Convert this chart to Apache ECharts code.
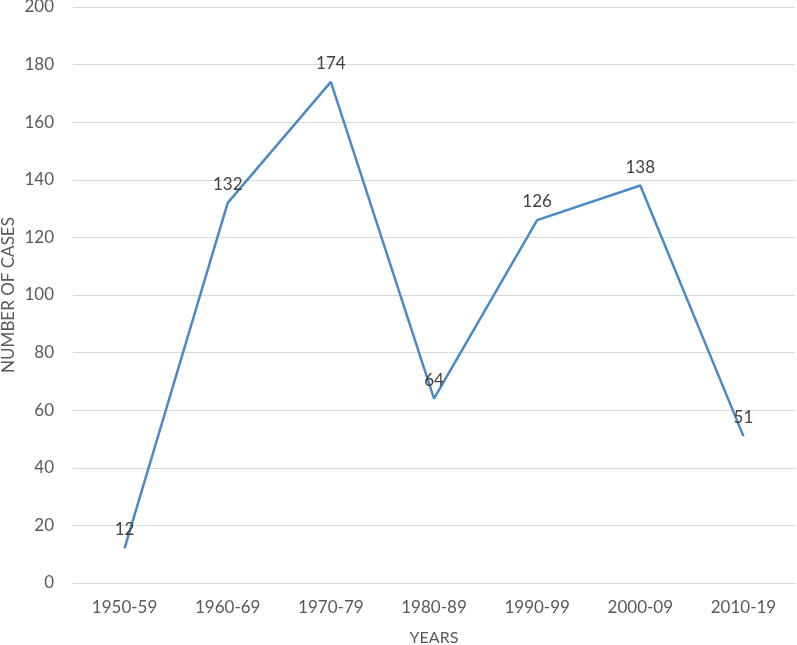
<!DOCTYPE html>
<html>
<head>
<meta charset="utf-8">
<script src="https://cdn.jsdelivr.net/npm/echarts@6/dist/echarts.min.js"></script>
<style>
html,body{margin:0;padding:0;background:#fff;}
#chart{width:797px;height:645px;}
</style>
</head>
<body>
<div id="chart"></div>
<script>
const categories = ['1950-59','1960-69','1970-79','1980-89','1990-99','2000-09','2010-19'];
const cases = [12, 132, 174, 64, 126, 138, 51];
const yTicks = {min: 0, max: 200, interval: 20};

const chart = echarts.init(document.getElementById('chart'));
const font = 'Lato, "Open Sans", sans-serif';
chart.setOption({
  animation: false,
  grid: {left: 73, right: 2, top: 7, bottom: 62, containLabel: false, outerBoundsMode: 'none'},
  xAxis: {
    type: 'category',
    data: categories,
    boundaryGap: true,
    name: 'YEARS',
    nameLocation: 'middle',
    nameGap: 47,
    nameMoveOverlap: false,
    nameTextStyle: {color: '#595959', fontSize: 16, fontFamily: font},
    axisLine: {show: true, lineStyle: {color: '#d9d9d9', width: 1}},
    axisTick: {show: false},
    axisLabel: {color: '#595959', fontSize: 17, fontFamily: font, margin: 16}
  },
  yAxis: {
    type: 'value',
    min: yTicks.min, max: yTicks.max, interval: yTicks.interval,
    name: 'NUMBER OF CASES',
    nameLocation: 'middle',
    nameGap: 56,
    nameRotate: 90,
    nameMoveOverlap: false,
    nameTextStyle: {color: '#595959', fontSize: 17, fontFamily: font},
    axisLine: {show: false},
    axisTick: {show: false},
    axisLabel: {color: '#595959', fontSize: 17, fontFamily: font, margin: 19},
    splitLine: {lineStyle: {color: '#d9d9d9', width: 1}}
  },
  series: [{
    type: 'line',
    data: cases,
    symbol: 'circle',
    symbolSize: 0,
    showSymbol: true,
    itemStyle: {color: '#4A8AC6'},
    lineStyle: {color: '#4A8AC6', width: 2.5},
    label: {
      show: true,
      position: 'top',
      distance: 10,
      color: '#404040',
      fontSize: 17,
      fontFamily: font
    }
  }]
});
</script>
</body>
</html>
